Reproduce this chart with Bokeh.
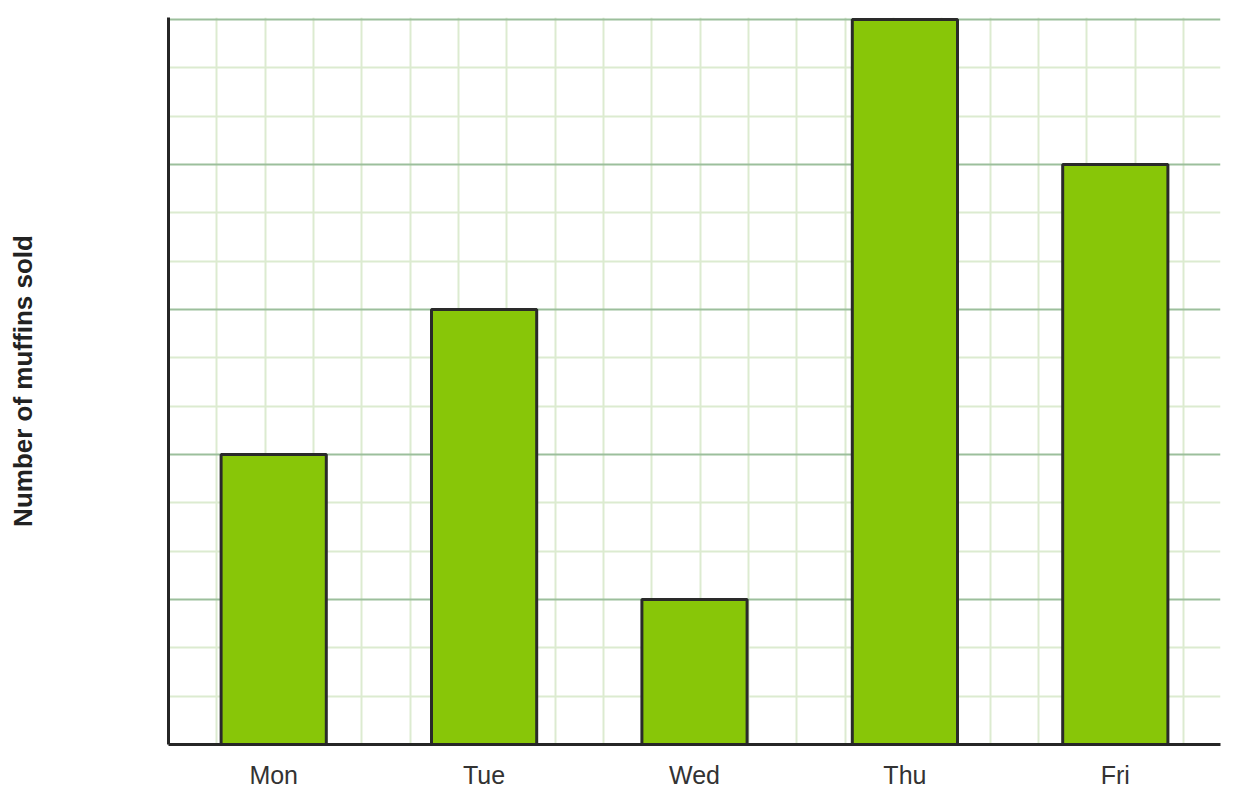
from bokeh.plotting import figure
from bokeh.models import FixedTicker, ColumnDataSource
from bokeh.embed import file_html
from bokeh.resources import INLINE

# ---- data ----
days = ["Mon", "Tue", "Wed", "Thu", "Fri"]
muffins = [6, 9, 3, 15, 12]
y_major = [0, 3, 6, 9, 12, 15]
y_minor = [1, 2, 4, 5, 7, 8, 10, 11, 13, 14]

# ---- layout ----
W, H = 1230, 798
left, right, top, bottom = 168, 10, 17, 54
pad_px = 2
frame_w = W - left - right
frame_h = H - top - bottom
x_span = len(days)
y_span = 15
px_per_y = (frame_h - pad_px) / y_span
y_end = y_span + pad_px / px_per_y

x_pos = [i + 0.5 for i in range(len(days))]
src = ColumnDataSource(dict(x=x_pos, top=muffins, day=days))

p = figure(width=W, height=H, x_range=(0, x_span), y_range=(0, y_end),
           output_backend="svg", toolbar_location=None,
           min_border_left=left, min_border_right=right,
           min_border_top=top, min_border_bottom=bottom)
p.outline_line_color = None
p.background_fill_color = "white"
p.border_fill_color = "white"

# square background grid: vertical spacing equals one y unit in pixels
step = px_per_y / (frame_w / x_span)
vticks = []
k = 1
while k * step < x_span:
    vticks.append(k * step)
    k += 1

p.xgrid.ticker = FixedTicker(ticks=vticks)
p.xgrid.grid_line_color = "#dcebd0"
p.xgrid.grid_line_width = 2

p.ygrid.ticker = FixedTicker(ticks=y_major, minor_ticks=y_minor)
p.ygrid.grid_line_color = "#9cbf9c"
p.ygrid.grid_line_width = 2
p.ygrid.minor_grid_line_color = "#dcebd0"
p.ygrid.minor_grid_line_width = 2
p.ygrid.level = "underlay"
p.xgrid.level = "underlay"

p.vbar(x="x", top="top", width=0.5, bottom=0, source=src,
       fill_color="#88c608", line_color="#2a2a2a", line_width=3)

# x axis
xa = p.xaxis[0]
xa.ticker = FixedTicker(ticks=x_pos)
xa.major_label_overrides = {x: d for x, d in zip(x_pos, days)}
xa.major_tick_line_color = None
xa.minor_tick_line_color = None
xa.major_tick_out = 0
xa.major_label_standoff = 16
xa.major_label_text_font = "Liberation Sans"
xa.major_label_text_font_size = "25px"
xa.major_label_text_color = "#333333"
xa.axis_line_color = "#262626"
xa.axis_line_width = 3

# y axis
ya = p.yaxis[0]
ya.ticker = FixedTicker(ticks=[])
ya.major_tick_line_color = None
ya.minor_tick_line_color = None
ya.major_tick_out = 0
ya.minor_tick_out = 0
ya.major_label_text_font_size = "0px"
ya.axis_line_color = "#262626"
ya.axis_line_width = 3
ya.axis_label = "Number of muffins sold"
ya.axis_label_text_font = "Liberation Sans"
ya.axis_label_text_font_style = "bold"
ya.axis_label_text_font_size = "26px"
ya.axis_label_text_color = "#222222"
ya.axis_label_standoff = 131

open("out.html", "w").write(file_html(p, INLINE))
